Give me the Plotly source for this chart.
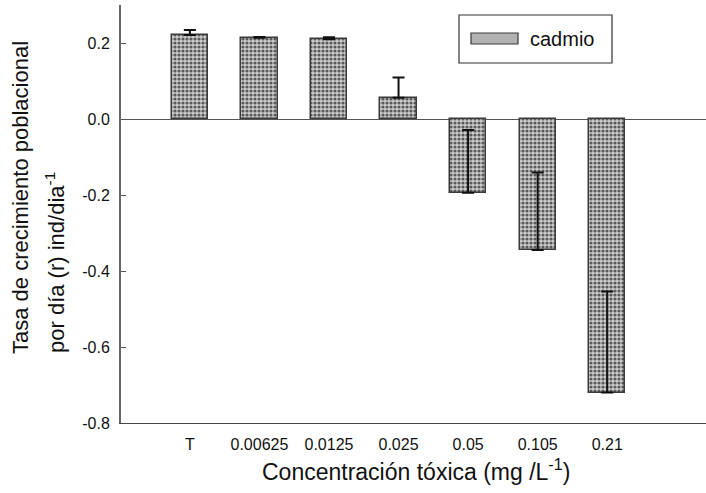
import plotly.graph_objects as go

# Population growth rate per toxic concentration of cadmium
concentrations = ["T", "0.00625", "0.0125", "0.025", "0.05", "0.105", "0.21"]
growth_rate = [0.221, 0.214, 0.210, 0.056, -0.194, -0.345, -0.720]
error_up = [0.013, 0.002, 0.005, 0.053, 0.165, 0.204, 0.266]
error_down = [0, 0, 0, 0, 0, 0, 0]

y_tick_values = [-0.8, -0.6, -0.4, -0.2, 0.0, 0.2]
y_tick_labels = ["-0.8", "-0.6", "-0.4", "-0.2", "0.0", "0.2"]

series_name = "cadmio"
x_title = "Concentración tóxica (mg /L<sup>-1</sup>)"
y_title_line1 = "Tasa de crecimiento poblacional"
y_title_line2 = "por día (r) ind/dia<sup>-1</sup>"

W, H = 706, 493
M_L, M_R, M_T, M_B = 121, 0, 5, 70
PW, PH = W - M_L - M_R, H - M_T - M_B
FONT = "Liberation Sans, Arial, sans-serif"


def px_x(p):
    return (p - M_L) / PW


def px_y(p):
    return (H - M_B - p) / PH


fig = go.Figure()
fig.add_trace(go.Bar(
    x=concentrations,
    y=growth_rate,
    width=0.52,
    name=series_name,
    showlegend=False,
    marker=dict(
        color="#c4c4c4",
        line=dict(color="#3a3a3a", width=1.5),
        pattern=dict(shape=".", fgcolor="#5a5a5a", bgcolor="#cdcdcd",
                     size=4, solidity=0.5, fillmode="replace"),
    ),
    error_y=dict(type="data", symmetric=False, array=error_up,
                 arrayminus=error_down, color="#111111",
                 thickness=2, width=6),
))

# legend box drawn by hand so the swatch keeps its wide shape
shapes = [
    dict(type="rect", xref="paper", yref="paper",
         x0=px_x(459), x1=px_x(612), y0=px_y(63), y1=px_y(15),
         line=dict(color="#333333", width=1.2), fillcolor="rgba(0,0,0,0)"),
    dict(type="rect", xref="paper", yref="paper",
         x0=px_x(471), x1=px_x(518), y0=px_y(44), y1=px_y(33),
         line=dict(color="#3a3a3a", width=1.2), fillcolor="#b2b2b2"),
]

annotations = [
    dict(text=series_name, xref="paper", yref="paper",
         x=px_x(528), y=px_y(39), xanchor="left", yanchor="middle",
         showarrow=False, font=dict(family=FONT, size=20, color="#111")),
    dict(text=x_title, xref="paper", yref="paper",
         x=px_x(416), y=px_y(470), xanchor="center", yanchor="middle",
         showarrow=False, font=dict(family=FONT, size=23, color="#111")),
    dict(text=y_title_line1, xref="paper", yref="paper",
         x=px_x(20), y=px_y(198), xanchor="center", yanchor="middle",
         textangle=-90, showarrow=False,
         font=dict(family=FONT, size=22, color="#111")),
    dict(text=y_title_line2, xref="paper", yref="paper",
         x=px_x(55), y=px_y(263), xanchor="center", yanchor="middle",
         textangle=-90, showarrow=False,
         font=dict(family=FONT, size=22, color="#111")),
]

fig.update_layout(
    width=W, height=H,
    margin=dict(l=M_L, r=M_R, t=M_T, b=M_B, autoexpand=False),
    paper_bgcolor="white", plot_bgcolor="white",
    font=dict(family=FONT, color="#111"),
    shapes=shapes, annotations=annotations,
    showlegend=False,
    bargap=0,
)
fig.update_xaxes(
    type="category", range=[-0.99, 7.42],
    showline=True, linecolor="#444444", linewidth=1.2,
    showgrid=False, zeroline=False, ticks="",
    tickfont=dict(size=16, family=FONT, color="#111"),
    ticklabelstandoff=7,
)
fig.update_yaxes(
    range=[-0.8, 0.3],
    tickvals=y_tick_values, ticktext=y_tick_labels,
    showline=True, linecolor="#666666", linewidth=2,
    ticks="inside", ticklen=5, tickcolor="#555555", tickwidth=1,
    showgrid=False,
    zeroline=True, zerolinecolor="#555555", zerolinewidth=1.2,
    tickfont=dict(size=16, family=FONT, color="#111"),
    ticklabelstandoff=6,
)

fig.write_html("out.html")
